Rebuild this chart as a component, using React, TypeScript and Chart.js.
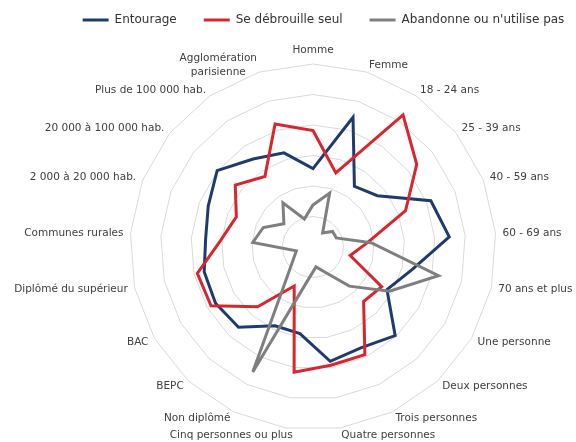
import React, { useEffect, useRef } from "react";
import { Chart, registerables } from "chart.js";

Chart.register(...registerables);

const categories: (string | string[])[] = [
  "Homme",
  "Femme",
  "18 - 24 ans",
  "25 - 39 ans",
  "40 - 59 ans",
  "60 - 69 ans",
  "70 ans et plus",
  "Une personne",
  "Deux personnes",
  "Trois personnes",
  "Quatre personnes",
  "Cinq personnes ou plus",
  "Non diplômé",
  "BEPC",
  "BAC",
  "Diplômé du supérieur",
  "Communes rurales",
  "2 000 à 20 000 hab.",
  "20 000 à 100 000 hab.",
  "Plus de 100 000 hab.",
  ["Agglomération", "parisienne"],
];

const entourage = [
  25.7, 44.5, 24.1, 27.0, 41.5, 44.8, 33.3, 28.0, 39.6, 36.6, 37.9, 28.7, 28.7,
  35.9, 36.9, 36.6, 35.3, 36.9, 40.2, 34.9, 32.3,
];
const seDebrouille = [
  38.2, 25.4, 52.4, 43.5, 32.6, 17.8, 12.5, 26.0, 24.4, 39.2, 39.2, 41.5, 14.2,
  26.7, 38.6, 38.9, 30.3, 27.0, 32.6, 28.0, 42.2,
];
const abandonne = [
  13.8, 18.5, 5.6, 8.2, 8.2, 19.1, 42.2, 29.0, 17.5, 9.2, 6.6, 10.9, 45.5,
  11.9, 7.3, 5.6, 19.8, 17.5, 12.2, 17.5, 9.6,
];

const seriesNames = ["Entourage", "Se débrouille seul", "Abandonne ou n'utilise pas"];
const seriesColors = ["#1F3B6E", "#D8262E", "#7F7F7F"];

const scaleMax = 60;
const scaleStep = 10;

const labelNudgeX: Record<number, number> = { 11: 8 };

const pointLabelPlugin = {
  id: "excelPointLabels",
  afterDraw(chart: any) {
    const scale = chart.scales.r;
    const ctx = chart.ctx as CanvasRenderingContext2D;
    const n = categories.length;
    const lh = 14;
    ctx.save();
    ctx.font = '10.5px "DejaVu Sans"';
    ctx.fillStyle = "#404040";
    ctx.textBaseline = "middle";
    ctx.textAlign = "left";
    for (let i = 0; i < n; i++) {
      const pos = scale.getPointPosition(i, scale.drawingArea + 7);
      const deg = (360 * i) / n;
      const raw = categories[i];
      const lines = Array.isArray(raw) ? raw : [raw];
      const widths = lines.map((l) => ctx.measureText(l).width);
      const blockW = Math.max(...widths);
      let left: number;
      if (deg === 0 || deg === 180) left = pos.x - blockW / 2;
      else if (deg < 180) left = pos.x;
      else left = pos.x - blockW;
      left += labelNudgeX[i] || 0;
      let cy = pos.y;
      if (deg === 0) cy = pos.y - (lines.length * lh) / 2;
      const top = cy - (lines.length * lh) / 2;
      lines.forEach((l, k) => {
        ctx.fillText(l, left + (blockW - widths[k]) / 2, top + lh * (k + 0.5));
      });
    }
    ctx.restore();
  },
};

export default function App() {
  const ref = useRef<HTMLCanvasElement | null>(null);

  useEffect(() => {
    if (!ref.current) return;
    Chart.defaults.font.family = '"DejaVu Sans", Verdana, sans-serif';
    const values = [entourage, seDebrouille, abandonne];
    const chart = new Chart(ref.current, {
      type: "radar",
      data: {
        labels: categories as any,
        datasets: values.map((v, k) => ({
          label: seriesNames[k],
          data: v,
          borderColor: seriesColors[k],
          backgroundColor: seriesColors[k],
          borderWidth: 3,
          fill: false,
          pointRadius: 0,
          pointHoverRadius: 0,
          pointHitRadius: 0,
          tension: 0,
          order: 3 - k,
        })),
      },
      options: {
        responsive: false,
        animation: false,
        layout: { padding: { top: -13, bottom: 12, left: 50, right: -21 } },
        scales: {
          r: {
            min: 0,
            max: scaleMax,
            beginAtZero: true,
            ticks: { display: false, stepSize: scaleStep },
            grid: { color: "#D9D9D9", lineWidth: 1, circular: false },
            angleLines: { display: false },
            pointLabels: { display: false },
          },
        },
        plugins: {
          tooltip: { enabled: false },
          legend: {
            position: "top",
            reverse: true,
            labels: {
              boxWidth: 26,
              boxHeight: 3,
              padding: 27,
              color: "#333333",
              font: { size: 12, family: '"DejaVu Sans"' },
              generateLabels: (c: any) =>
                Chart.defaults.plugins.legend.labels
                  .generateLabels(c)
                  .map((it: any) => ({ ...it, lineWidth: 0, fillStyle: it.strokeStyle })),
            },
          },
          title: {
            display: true,
            text: " ",
            position: "top",
            weight: 500,
            font: { size: 10, lineHeight: 1 },
            padding: { top: 0, bottom: 18 },
          } as any,
          subtitle: {
            display: true,
            text: " ",
            position: "right",
            fullSize: false,
            font: { size: 10, lineHeight: 1 },
            padding: { top: 0, bottom: 11 },
          } as any,
        },
      },
      plugins: [pointLabelPlugin],
    });
    return () => chart.destroy();
  }, []);

  return (
    <div style={{ position: "fixed", left: 0, top: 0, width: 576, height: 442, background: "#fff" }}>
      <canvas ref={ref} width={576} height={442} style={{ display: "block" }} />
    </div>
  );
}
